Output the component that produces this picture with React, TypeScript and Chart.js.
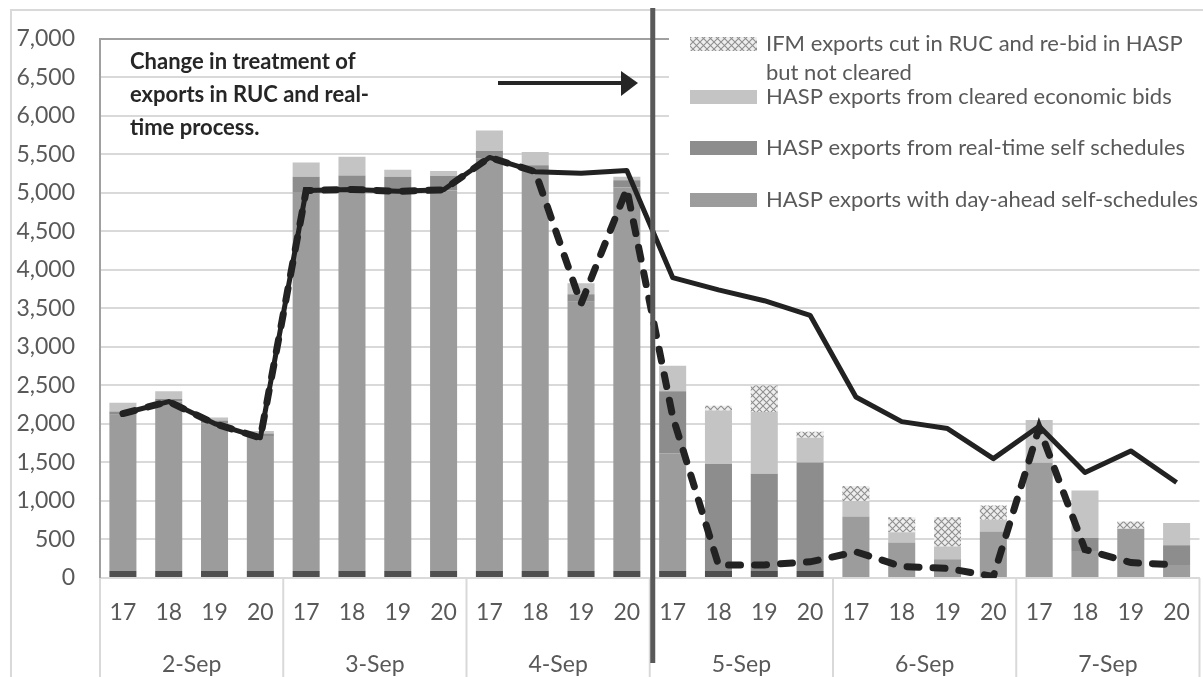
import React, { useEffect, useRef } from 'react';
import { Chart, registerables } from 'chart.js';

Chart.register(...registerables);

// ---------- data ----------
const days = ['2-Sep', '3-Sep', '4-Sep', '5-Sep', '6-Sep', '7-Sep'];
const hours = ['17', '18', '19', '20'];

const baseBand = [90, 90, 90, 90, 90, 90, 90, 90, 90, 90, 90, 90, 90, 90, 90, 90, 0, 0, 0, 0, 0, 0, 0, 0];
const dayAhead = [2030, 2200, 1920, 1755, 4920, 4920, 4920, 4940, 5360, 5185, 3495, 4980, 1530, 0, 0, 0, 800, 460, 245, 605, 1495, 350, 640, 170];
const realTime = [40, 35, 35, 30, 200, 215, 200, 190, 95, 85, 100, 95, 805, 1390, 1265, 1410, 0, 0, 0, 0, 0, 170, 0, 255];
const economic = [115, 100, 40, 35, 185, 245, 90, 65, 265, 170, 140, 45, 330, 695, 800, 320, 200, 135, 165, 150, 555, 617, 0, 290];
const ifmCut = [0, 0, 0, 0, 0, 0, 0, 0, 0, 0, 0, 0, 0, 60, 345, 80, 195, 195, 380, 185, 0, 0, 95, 0];
const solidLine = [2135, 2290, 2005, 1820, 5030, 5045, 5020, 5040, 5460, 5275, 5255, 5290, 3900, 3740, 3600, 3410, 2350, 2030, 1940, 1550, 1970, 1370, 1650, 1240];
const dashedLine = [2135, 2290, 2005, 1820, 5030, 5045, 5020, 5040, 5460, 5275, 3560, 5050, 2100, 170, 170, 210, 340, 150, 125, 20, 1950, 370, 200, 170];

const yMin = 0;
const yMax = 7000;
const yStep = 500;

const ifmLabel = 'IFM exports cut in RUC and re-bid in HASP but not cleared';
const economicLabel = 'HASP exports from cleared economic bids';
const realTimeLabel = 'HASP exports from real-time self schedules';
const dayAheadLabel = 'HASP exports with day-ahead self-schedules';

const annotationLines = ['Change in treatment of', 'exports in RUC and real-', 'time process.'];

const categoryLabels = days.flatMap(() => hours);

// ---------- styling ----------
const FONT = 'Lato, "Open Sans", sans-serif';
const TEXT = '#595959';
const GRID = '#d9d9d9';

function makeHatch(ctx: CanvasRenderingContext2D) {
  const c = document.createElement('canvas');
  c.width = 7;
  c.height = 7;
  const g = c.getContext('2d')!;
  g.fillStyle = '#eeeeee';
  g.fillRect(0, 0, 7, 7);
  g.strokeStyle = '#8f8f8f';
  g.lineWidth = 1.1;
  g.beginPath();
  g.moveTo(0, 0);
  g.lineTo(7, 7);
  g.moveTo(7, 0);
  g.lineTo(0, 7);
  g.stroke();
  return ctx.createPattern(c, 'repeat')!;
}

function wrap(ctx: CanvasRenderingContext2D, text: string, maxW: number) {
  const words = text.split(' ');
  const lines: string[] = [];
  let cur = '';
  for (const w of words) {
    const t = cur ? cur + ' ' + w : w;
    if (ctx.measureText(t).width > maxW && cur) {
      lines.push(cur);
      cur = w;
    } else cur = t;
  }
  if (cur) lines.push(cur);
  return lines;
}

const overlayPlugin = {
  id: 'overlay',
  beforeDatasetsDraw(chart: any) {
    const { ctx } = chart;
    ctx.save();
    ctx.fillStyle = '#ffffff';
    ctx.fillRect(669, 35, chart.width - 669, 233);
    ctx.restore();
  },
  afterDraw(chart: any) {
    const { ctx, chartArea: a } = chart;
    const x = chart.scales.x;
    const n = hours.length;
    ctx.save();

    // outer frame
    ctx.strokeStyle = GRID;
    ctx.lineWidth = 2;
    ctx.beginPath();
    ctx.moveTo(11, chart.height);
    ctx.lineTo(11, 10);
    ctx.lineTo(chart.width, 10);
    ctx.stroke();

    // group separators under the axis
    for (let g = 0; g <= days.length; g++) {
      const px = x.getPixelForValue(g * n - 0.5);
      ctx.beginPath();
      ctx.moveTo(px, a.bottom);
      ctx.lineTo(px, chart.height);
      ctx.stroke();
    }

    // day labels
    ctx.fillStyle = TEXT;
    ctx.font = `23px ${FONT}`;
    ctx.textAlign = 'center';
    ctx.textBaseline = 'middle';
    days.forEach((d, g) => {
      const c = (x.getPixelForValue(g * n - 0.5) + x.getPixelForValue(g * n + n - 0.5)) / 2;
      ctx.fillText(d, c, 665);
    });

    // vertical marker
    const vx = x.getPixelForValue(3 * n - 0.5) + 3;
    ctx.strokeStyle = '#595959';
    ctx.lineWidth = 5;
    ctx.beginPath();
    ctx.moveTo(vx, 8);
    ctx.lineTo(vx, 663);
    ctx.stroke();

    // annotation
    ctx.fillStyle = '#262626';
    ctx.font = `bold 22px ${FONT}`;
    ctx.textAlign = 'left';
    ctx.textBaseline = 'alphabetic';
    annotationLines.forEach((t, i) => ctx.fillText(t, 130, 69 + i * 33));

    // arrow
    ctx.strokeStyle = '#262626';
    ctx.lineWidth = 4;
    ctx.beginPath();
    ctx.moveTo(498, 83);
    ctx.lineTo(624, 83);
    ctx.stroke();
    ctx.fillStyle = '#262626';
    ctx.beginPath();
    ctx.moveTo(621, 71);
    ctx.lineTo(638, 83);
    ctx.lineTo(621, 96);
    ctx.closePath();
    ctx.fill();

    // legend
    const items = [
      { ds: 4, y: 44 },
      { ds: 3, y: 97 },
      { ds: 2, y: 148 },
      { ds: 1, y: 200 },
    ];
    ctx.font = `22px ${FONT}`;
    ctx.textBaseline = 'middle';
    items.forEach((it) => {
      const ds = chart.data.datasets[it.ds];
      ctx.fillStyle = ds.backgroundColor;
      ctx.fillRect(690, it.y - 7, 67, 14);
      ctx.fillStyle = TEXT;
      const lines = wrap(ctx, ds.label, 440);
      lines.forEach((l, i) => ctx.fillText(l, 766, it.y + i * 29));
    });

    ctx.restore();
  },
};

export default function App() {
  const ref = useRef<HTMLCanvasElement>(null);

  useEffect(() => {
    const canvas = ref.current!;
    const ctx = canvas.getContext('2d')!;
    const hatch = makeHatch(ctx);

    const barCommon = {
      type: 'bar' as const,
      stack: 'bars',
      order: 1,
      borderWidth: 0,
      categoryPercentage: 1,
      barPercentage: 0.59,
    };

    const chart = new Chart(ctx, {
      type: 'bar',
      data: {
        labels: categoryLabels,
        datasets: [
          { ...barCommon, label: 'base', data: baseBand, backgroundColor: '#4f4f4f' },
          { ...barCommon, label: dayAheadLabel, data: dayAhead, backgroundColor: '#9c9c9c' },
          { ...barCommon, label: realTimeLabel, data: realTime, backgroundColor: '#8d8d8d' },
          { ...barCommon, label: economicLabel, data: economic, backgroundColor: '#c4c4c4' },
          { ...barCommon, label: ifmLabel, data: ifmCut, backgroundColor: hatch as any },
          {
            type: 'line',
            label: 'solid',
            data: solidLine,
            stack: 'solid',
            order: 0,
            borderColor: '#222222',
            borderWidth: 5,
            pointRadius: 0,
            tension: 0,
            borderJoinStyle: 'round',
          } as any,
          {
            type: 'line',
            label: 'dashed',
            data: dashedLine,
            stack: 'dashed',
            order: 0,
            borderColor: '#222222',
            borderWidth: 7,
            borderDash: [12, 14],
            borderCapStyle: 'round',
            pointRadius: 0,
            tension: 0,
          } as any,
        ],
      },
      options: {
        animation: false,
        responsive: false,
        maintainAspectRatio: false,
        layout: { padding: { top: 33, left: 0, right: 0, bottom: 0 } },
        plugins: { legend: { display: false }, tooltip: { enabled: false } },
        scales: {
          x: {
            stacked: true,
            grid: { display: false, drawTicks: false },
            border: { display: true, color: GRID, width: 2 },
            ticks: {
              color: TEXT,
              font: { family: FONT, size: 23 },
              padding: 21,
              maxRotation: 0,
              autoSkip: false,
            },
            afterFit: (s: any) => {
              s.height = 99;
              s.paddingLeft = 0;
              s.paddingRight = 0;
            },
          },
          y: {
            stacked: true,
            min: yMin,
            max: yMax,
            ticks: {
              stepSize: yStep,
              color: TEXT,
              font: { family: FONT, size: 23 },
              padding: 25,
              callback: (v: any) => Number(v).toLocaleString('en-US'),
            },
            grid: {
              color: (c: any) => (c.tick && c.tick.value === yMax ? '#a0a0a0' : GRID),
              lineWidth: 2,
              drawTicks: false,
            },
            border: { display: true, color: '#a0a0a0', width: 2 },
            afterFit: (s: any) => {
              s.width = 100;
            },
          },
        },
      },
      plugins: [overlayPlugin],
    });

    let alive = true;
    if ((document as any).fonts) {
      Promise.all([
        (document as any).fonts.load(`23px Lato`),
        (document as any).fonts.load(`bold 23px Lato`),
      ]).then(() => {
        if (alive) chart.update();
      });
    }

    return () => {
      alive = false;
      chart.destroy();
    };
  }, []);

  return (
    <div style={{ position: 'fixed', left: 0, top: 0, width: 1203, height: 677, background: '#fff' }}>
      <canvas ref={ref} width={1203} height={677} style={{ display: 'block', width: 1203, height: 677 }} />
    </div>
  );
}
